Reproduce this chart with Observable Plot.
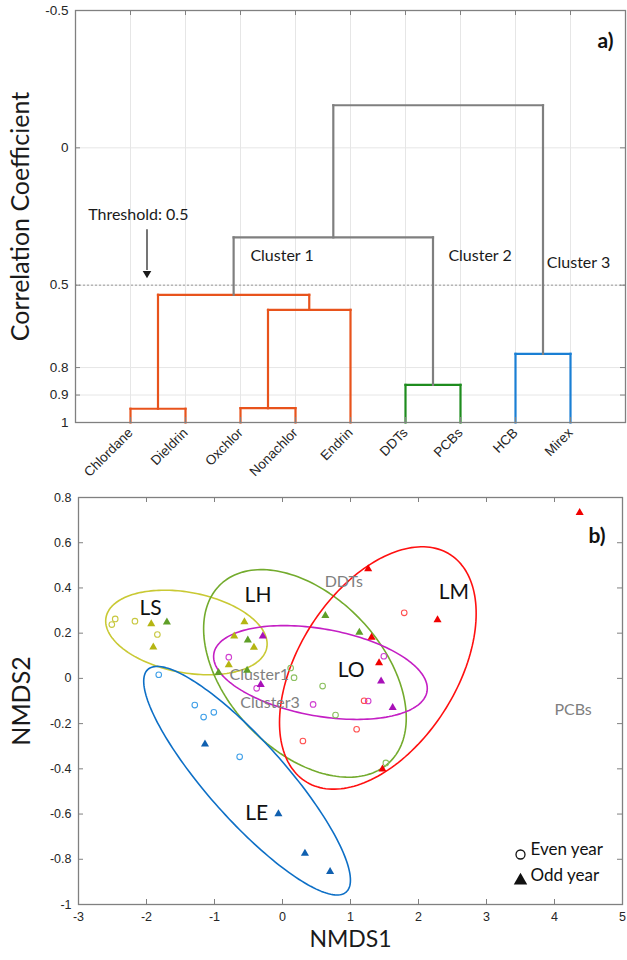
<!DOCTYPE html>
<html><head><meta charset="utf-8">
<script src="https://cdn.jsdelivr.net/npm/d3@7"></script>
<script src="https://cdn.jsdelivr.net/npm/@observablehq/plot@0.6"></script>
<style>
body{margin:0;background:#fff;}
#wrap{width:627px;position:relative;}
#wrap svg{display:block;background:#fff;}
</style></head><body><div id="wrap"></div>
<script>
// ---------- Panel a: dendrogram data ----------
const leaves = ["Chlordane","Dieldrin","Oxchlor","Nonachlor","Endrin","DDTs","PCBs","HCB","Mirex"];
const leafLevel = 1;
const mergeIds    = ["m1","m2","m3","m4","m5","m6","m7","m8"];
const mergeLeft   = ["Chlordane","Oxchlor","m2","m1","DDTs","HCB","m4","m7"];
const mergeRight  = ["Dieldrin","Nonachlor","Endrin","m3","PCBs","Mirex","m5","m6"];
const mergeHeight = [0.95, 0.948, 0.59, 0.535, 0.863, 0.75, 0.326, -0.155];
const mergeCluster= ["Cluster 1","Cluster 1","Cluster 1","Cluster 1","Cluster 2","Cluster 3","none","none"];
const clusterNames = ["Cluster 1","Cluster 2","Cluster 3","none"];
const yTicksA = [-0.5, 0, 0.5, 0.8, 0.9, 1];
const threshold = 0.5;
const clusterLabelText = ["Cluster 1","Cluster 2","Cluster 3"];
const clusterLabelX = [3.18, 6.78, 8.57];
const clusterLabelY = [0.393, 0.393, 0.42];
const thresholdText = "Threshold: 0.5";
const thresholdTextX = 0.23, thresholdTextY = 0.245;
const arrowX = 1.3, arrowFrom = 0.298, arrowTo = 0.468;

// ---------- Panel b: NMDS data ----------
const groups = ["LS","LH","LO","LM","LE"];
const ptGroup = [
  "LS","LS","LS","LS","LS","LS","LS","LS","LS","LS",
  "LH","LH","LH","LH","LH","LH","LH","LH","LH","LH","LH",
  "LO","LO","LO","LO","LO","LO","LO","LO","LO",
  "LM","LM","LM","LM","LM","LM","LM","LM","LM","LM",
  "LE","LE","LE","LE","LE","LE","LE","LE","LE"];
const ptYear = [
  "even","even","even","even","odd","odd","odd","odd","odd","odd",
  "odd","odd","odd","odd","odd","odd","even","even","even","even","even",
  "odd","odd","odd","odd","even","even","even","even","even",
  "odd","odd","odd","odd","odd","odd","even","even","even","even",
  "even","even","even","even","even","odd","odd","odd","odd"];
const ptX = [
  -2.51,-2.46,-2.17,-1.84,-1.93,-1.90,-0.56,-0.71,-0.42,-0.79,
  -1.70,-0.51,-0.52,-0.94,0.63,1.13,0.12,0.17,0.59,0.78,1.52,
  -0.29,-0.32,1.45,1.62,-0.79,-0.38,1.49,1.26,0.45,
  1.26,2.28,1.31,1.42,1.47,4.37,1.79,1.20,0.30,1.09,
  -1.82,-1.29,-1.16,-1.01,-0.63,-1.14,-0.06,0.33,0.70];
const ptY = [
  0.238,0.263,0.253,0.194,0.241,0.138,0.250,0.187,0.137,0.060,
  0.249,0.169,0.035,0.025,0.277,0.203,0.046,0.003,-0.034,-0.162,-0.374,
  0.187,-0.028,-0.012,-0.130,0.094,-0.044,0.098,-0.100,-0.115,
  0.484,0.259,0.181,0.068,-0.402,0.733,0.290,-0.099,-0.277,-0.225,
  0.016,-0.118,-0.171,-0.150,-0.347,-0.291,-0.599,-0.774,-0.855];
// confidence ellipses: centre, half-extent in x and y, correlation
const ellCx = [-1.413, 0.330, 0.558, 1.402, -0.521];
const ellCy = [0.203, 0.022, 0.026, 0.046, -0.4525];
const ellHx = [1.187, 1.490, 1.571, 1.446, 1.520];
const ellHy = [0.187, 0.459, 0.2075, 0.536, 0.5055];
const ellRho = [-0.27, -0.43, -0.34, 0.45, -0.87];
const groupLabelX = [-1.94, -0.36, 1.01, 2.52, -0.38];
const groupLabelY = [0.31, 0.366, 0.035, 0.381, -0.598];
const varLabels = ["DDTs","PCBs","Cluster1","Cluster3"];
const varLabelX = [0.62, 4.00, -0.78, -0.62];
const varLabelY = [0.425, -0.141, 0.016, -0.11];
const xTicksB = [-3,-2,-1,0,1,2,3,4,5];
const yTicksB = [-1,-0.8,-0.6,-0.4,-0.2,0,0.2,0.4,0.6,0.8];

// ---------- styles ----------
const clusterColors = ["#e8531c","#1e8c1e","#1a7fd4","#7f7f7f"];
const ellColors  = ["#c9c934","#73ab2d","#c41fc4","#ff1010","#0d6fc6"];
const triColors  = ["#b5b512","#5f9f28","#a810b8","#f00000","#1060b0"];
const circColors = ["#c8c840","#8cc060","#d040d0","#ff5050","#40a0e8"];
const tickFont = "Liberation Sans, Arial, sans-serif";
const labFont = "Lato, sans-serif";

// ---------- build dendrogram segments ----------
const pos = {};
leaves.forEach((l,i)=>pos[l]={x:i+1,y:leafLevel});
const segs = [];
mergeIds.forEach((id,i)=>{
  const a = pos[mergeLeft[i]], b = pos[mergeRight[i]], h = mergeHeight[i], c = mergeCluster[i];
  segs.push({x1:a.x,y1:a.y,x2:a.x,y2:h,c});
  segs.push({x1:b.x,y1:b.y,x2:b.x,y2:h,c});
  segs.push({x1:a.x,y1:h,x2:b.x,y2:h,c});
  pos[id] = {x:(a.x+b.x)/2, y:h};
});
const leafIdx = leaves.map((d,i)=>i+1);
const clusterLabels = clusterLabelText.map((t,i)=>({t,x:clusterLabelX[i],y:clusterLabelY[i]}));

const WA = 627, HA = 490, mlA = 75, mrA = 2, mtA = 10, mbA = 68;
const pwA = WA-mlA-mrA, phA = HA-mtA-mbA;
const tl = 5;

const plotA = Plot.plot({
  width: WA, height: HA, marginLeft: mlA, marginRight: mrA, marginTop: mtA, marginBottom: mbA,
  x: {domain: [0,10]},
  y: {domain: [-0.5,1], reverse: true},
  color: {domain: clusterNames, range: clusterColors},
  style: {fontFamily: tickFont, fontSize: "12px", color: "#262626", background: "#fff"},
  marks: [
    Plot.gridX(leafIdx, {stroke: "#e6e6e6", strokeOpacity: 1}),
    Plot.gridY(yTicksA, {stroke: "#e6e6e6", strokeOpacity: 1}),
    Plot.ruleY([threshold], {stroke: "#9a9a9a", strokeDasharray: "2,2", strokeWidth: 1}),
    Plot.link(segs, {x1:"x1", y1:"y1", x2:"x2", y2:"y2", stroke:"c", strokeWidth: 2.2, strokeLinecap: "square"}),
    Plot.tickX(leafIdx, {x: d=>d, insetBottom: phA-tl, stroke: "#808080"}),
    Plot.tickX(leafIdx, {x: d=>d, insetTop: phA-tl, stroke: "#808080"}),
    Plot.tickY(yTicksA, {y: d=>d, insetRight: pwA-tl, stroke: "#808080"}),
    Plot.tickY(yTicksA, {y: d=>d, insetLeft: pwA-tl, stroke: "#808080"}),
    Plot.axisY(yTicksA, {tickFormat: d=>String(d), tickSize: 0, tickPadding: 7, label: null, fontSize: 13.5}),
    Plot.axisX(leafIdx, {tickFormat: i=>leaves[i-1], tickRotate: -45, tickSize: 0, tickPadding: 8, label: null, fontSize: 13.5}),
    Plot.frame({stroke: "#808080", strokeWidth: 1.3}),
    Plot.text(clusterLabels, {x:"x", y:"y", text:"t", textAnchor:"start", fontFamily: labFont, fontSize: 16, fill:"#1a1a1a"}),
    Plot.text([thresholdText], {x: thresholdTextX, y: thresholdTextY, textAnchor:"start", fontFamily: labFont, fontSize: 16, fill:"#1a1a1a"}),
    Plot.ruleX([arrowX], {y1: arrowFrom, y2: arrowTo, stroke:"#1a1a1a", strokeWidth: 1.2, insetBottom: 6}),
    Plot.dot([arrowX], {x: d=>d, y: arrowTo, symbol:"triangle", rotate:180, r: 3.2, fill:"#1a1a1a", dy: -3}),
    Plot.text(["Correlation Coefficient"], {frameAnchor:"left", textAnchor:"middle", rotate:-90, dx:-55, fontFamily: labFont, fontSize: 25, fill:"#1a1a1a"}),
    Plot.text(["a)"], {frameAnchor:"top-right", textAnchor:"end", dx:-12, dy:23, fontFamily: labFont, fontWeight:"bold", fontSize: 21, fill:"#111"})
  ]
});

// ---------- panel b ----------
const pts = ptX.map((x,i)=>({x, y:ptY[i], g:ptGroup[i], yr:ptYear[i]}));
const ellPts = [];
groups.forEach((g,k)=>{
  const n = 180, s = Math.sqrt(1-ellRho[k]*ellRho[k]);
  for (let j=0;j<=n;j++){
    const t = 2*Math.PI*j/n;
    ellPts.push({g, x: ellCx[k]+ellHx[k]*Math.cos(t), y: ellCy[k]+ellHy[k]*(ellRho[k]*Math.cos(t)+s*Math.sin(t))});
  }
});
const gi = g => groups.indexOf(g);
const groupLabels = groups.map((g,i)=>({g,x:groupLabelX[i],y:groupLabelY[i]}));
const vLabels = varLabels.map((t,i)=>({t,x:varLabelX[i],y:varLabelY[i]}));

const WB = 627, HB = 470, mlB = 78, mrB = 5, mtB = 7, mbB = 56;
const pwB = WB-mlB-mrB, phB = HB-mtB-mbB;
const fmtB = d => String(+d.toFixed(1));

const plotB = Plot.plot({
  width: WB, height: HB, marginLeft: mlB, marginRight: mrB, marginTop: mtB, marginBottom: mbB,
  x: {domain: [-3,5]},
  y: {domain: [-1,0.8]},
  style: {fontFamily: tickFont, fontSize: "12px", color: "#262626", background: "#fff", overflow: "visible"},
  marks: [
    Plot.line(ellPts, {x:"x", y:"y", z:"g", stroke: d=>ellColors[gi(d.g)], strokeWidth: 1.6}),
    Plot.text(vLabels, {x:"x", y:"y", text:"t", textAnchor:"start", fontFamily: labFont, fontSize: 16, fill:"#808080"}),
    Plot.dot(pts.filter(d=>d.yr==="even"), {x:"x", y:"y", symbol:"circle", r: 2.8, fill:"none", stroke: d=>circColors[gi(d.g)], strokeWidth: 1.1}),
    Plot.dot(pts.filter(d=>d.yr==="odd"), {x:"x", y:"y", symbol:"triangle", r: 3, fill: d=>triColors[gi(d.g)], stroke:"none"}),
    Plot.text(groupLabels, {x:"x", y:"y", text:"g", fontFamily: labFont, fontSize: 21, fill:"#111"}),
    Plot.tickX(xTicksB, {x: d=>d, insetBottom: phB-tl, stroke: "#808080"}),
    Plot.tickX(xTicksB, {x: d=>d, insetTop: phB-tl, stroke: "#808080"}),
    Plot.tickY(yTicksB, {y: d=>d, insetRight: pwB-tl, stroke: "#808080"}),
    Plot.tickY(yTicksB, {y: d=>d, insetLeft: pwB-tl, stroke: "#808080"}),
    Plot.axisY(yTicksB, {tickFormat: fmtB, tickSize: 0, tickPadding: 7, label: null, fontSize: 12.5}),
    Plot.axisX(xTicksB, {tickFormat: fmtB, tickSize: 0, tickPadding: 8, label: null, fontSize: 12.5}),
    Plot.frame({stroke: "#808080", strokeWidth: 1.3}),
    Plot.text(["NMDS2"], {frameAnchor:"left", textAnchor:"middle", rotate:-90, dx:-57, fontFamily: labFont, fontSize: 25, fill:"#1a1a1a"}),
    Plot.text(["NMDS1"], {frameAnchor:"bottom", textAnchor:"middle", dy:42, fontFamily: labFont, fontSize: 23, fill:"#1a1a1a"}),
    Plot.text(["b)"], {frameAnchor:"top-right", textAnchor:"end", dx:-17, dy:31, fontFamily: labFont, fontWeight:"bold", fontSize: 21, fill:"#111"}),
    Plot.dot(["Even year"], {frameAnchor:"bottom-right", dx:-102, dy:-50, symbol:"circle", r:4.5, fill:"none", stroke:"#111", strokeWidth:1.3}),
    Plot.dot(["Odd year"], {frameAnchor:"bottom-right", dx:-102, dy:-24, symbol:"triangle", r:5, fill:"#111"}),
    Plot.text(["Even year"], {frameAnchor:"bottom-right", textAnchor:"start", dx:-92, dy:-50, fontFamily: labFont, fontSize: 17, fill:"#111"}),
    Plot.text(["Odd year"], {frameAnchor:"bottom-right", textAnchor:"start", dx:-92, dy:-24, fontFamily: labFont, fontSize: 17, fill:"#111"})
  ]
});

const wrap = document.getElementById("wrap");
wrap.appendChild(plotA);
wrap.appendChild(plotB);
</script></body></html>
